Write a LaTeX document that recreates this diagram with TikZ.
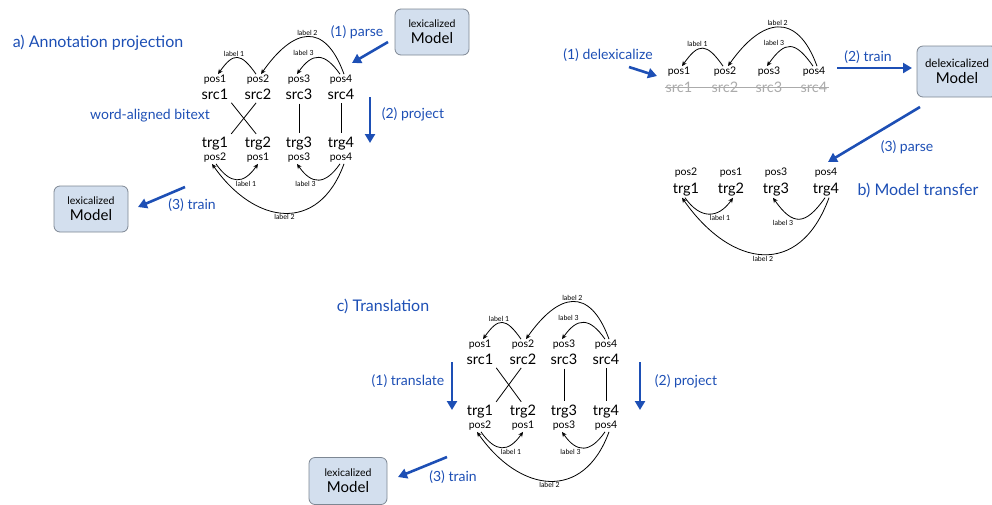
\documentclass[tikz,border=0pt]{standalone}
\usepackage{fontspec}
\setmainfont{Lato}
\usetikzlibrary{arrows.meta}
\definecolor{flowblue}{HTML}{1D4FB5}
\definecolor{boxfill}{HTML}{D3DFEE}
\definecolor{boxline}{HTML}{7D8793}
\definecolor{ghost}{HTML}{ABABAB}
\tikzset{
  word/.style={font=\fontsize{14.5}{16}\selectfont, inner sep=1pt},
  tagw/.style={font=\fontsize{10.5}{12}\selectfont, inner sep=1pt},
  ghostw/.style={word, text=ghost},
  lbl/.style={font=\fontsize{7}{8}\selectfont, inner sep=1.2pt},
  dep/.style={draw=black, line width=0.8pt, -{Stealth[length=5pt,width=4.5pt]}},
  algn/.style={draw=black, line width=0.8pt, shorten <=3pt, shorten >=3pt},
  strike/.style={draw=ghost, line width=0.8pt},
  flow/.style={draw=flowblue, line width=2.6pt, -{Triangle[length=9pt,width=10pt]}},
  stepl/.style={text=flowblue, font=\fontsize{14}{16}\selectfont},
  ttl/.style={text=flowblue, font=\fontsize{16}{18}\selectfont},
  box/.style={draw=boxline, fill=boxfill, rounded corners=6pt, line width=0.8pt,
    align=center, minimum width=74pt, minimum height=46pt, inner sep=1pt,
    font=\fontsize{15}{16}\selectfont},
}

\begin{document}
\begin{tikzpicture}[x=1pt,y=1pt]
  \useasboundingbox (0,0) rectangle (992,-504);

  % a) and c): source tree, alignment, projected tree
  \foreach \pn/\ox/\oy/\ty in {a/215/80/64, c/480/345/67} {
    \begin{scope}[shift={(\ox,-\oy)}]
      \foreach \i/\x/\t in {1/0/2, 2/43/1, 3/84/3, 4/126/4} {
        \node[tagw] (\pn-p\i) at (\x,0) {pos\i};
        \node[word] (\pn-s\i) at (\x,-14) {src\i};
        \node[word] (\pn-t\i) at (\x,-\ty) {trg\i};
        \node[tagw] (\pn-q\i) at (\x,-\ty-14) {pos\t};
      }
      \draw[algn] (\pn-s1.south east) -- (\pn-t2.north);
      \draw[algn] (\pn-s2.south) -- (\pn-t1.north east);
      \draw[algn] (\pn-s3.south) -- (\pn-t3.north);
      \draw[algn] (\pn-s4.south) -- (\pn-t4.north);
      \draw[dep] ([xshift=-2pt]\pn-p2.north) to[out=125,in=55,looseness=1.8]
        node[lbl,above,xshift=-3pt]{label 1} ([xshift=3pt]\pn-p1.north);
      \draw[dep] ([xshift=3pt]\pn-p4.north) to[out=110,in=55,looseness=1.75]
        node[lbl,above]{label 2} ([xshift=3pt]\pn-p2.north);
      \draw[dep] ([xshift=-1pt]\pn-p4.north) to[out=125,in=55,looseness=1.6]
        node[lbl,above,xshift=-15pt]{label 3} ([xshift=-2pt]\pn-p3.north);
      \draw[dep] ([xshift=1pt]\pn-q1.south) to[out=-55,in=-125,looseness=1.55]
        node[lbl,below,xshift=9pt]{label 1} (\pn-q2.south);
      \draw[dep] ([xshift=-1pt]\pn-q4.south) to[out=-125,in=-55,looseness=1.55]
        node[lbl,below,xshift=-13pt]{label 3} ([xshift=-2pt]\pn-q3.south);
      \draw[dep] ([xshift=3pt]\pn-q4.south) to[out=-110,in=-55,looseness=1.45]
        node[lbl,below]{label 2} ([xshift=-3pt]\pn-q1.south);
    \end{scope}
  }

  % a) Annotation projection
  \node[ttl] (a-title) at (98,-43) {a) Annotation projection};
  \node[stepl] (a-bitext) at (150,-116) {word-aligned bitext};
  \node[box] (a-lex) at (432,-32) {{\fontsize{10.5}{12}\selectfont lexicalized}\\Model};
  \node[box] (a-out) at (91,-209) {{\fontsize{10.5}{12}\selectfont lexicalized}\\Model};
  \coordinate (a-parse-s) at (388,-42);
  \coordinate (a-parse-e) at (352,-63);
  \coordinate (a-proj-s) at (370,-97);
  \coordinate (a-proj-e) at (370,-143);
  \coordinate (a-train-s) at (185,-187);
  \coordinate (a-train-e) at (138,-207);
  \draw[flow] (a-parse-s) -- (a-parse-e);
  \draw[flow] (a-proj-s) -- (a-proj-e);
  \draw[flow] (a-train-s) -- (a-train-e);
  \node[stepl] (a-parse) at (357,-32) {(1) parse};
  \node[stepl] (a-project) at (413,-114) {(2) project};
  \node[stepl] (a-train) at (192,-205) {(3) train};

  % b) Model transfer
  \foreach \i/\x in {1/679,2/725,3/769,4/814} {
    \node[tagw] (b-p\i) at (\x,-72) {pos\i};
    \node[ghostw] (b-s\i) at (\x,-87) {src\i};
  }
  \draw[strike] (b-s1.west) -- (b-s4.east);
  \draw[dep] ([xshift=-2pt]b-p2.north) to[out=125,in=55,looseness=1.8]
    node[lbl,above,xshift=-5pt]{label 1} ([xshift=3pt]b-p1.north);
  \draw[dep] ([xshift=3pt]b-p4.north) to[out=110,in=55,looseness=1.7]
    node[lbl,above]{label 2} ([xshift=3pt]b-p2.north);
  \draw[dep] ([xshift=-1pt]b-p4.north) to[out=125,in=55,looseness=1.75]
    node[lbl,above,xshift=-16pt]{label 3} ([xshift=-2pt]b-p3.north);
  \foreach \i/\x/\t in {1/686/2,2/731/1,3/776/3,4/826/4} {
    \node[tagw] (b-q\i) at (\x,-173) {pos\t};
    \node[word] (b-t\i) at (\x,-190) {trg\i};
  }
  \draw[dep] ([xshift=-1pt]b-t1.south) to[out=-55,in=-125,looseness=1.4]
    node[lbl,below,xshift=11pt]{label 1} ([xshift=2pt]b-t2.south);
  \draw[dep] ([xshift=-1pt]b-t4.south) to[out=-125,in=-55,looseness=1.7]
    node[lbl,below,xshift=-16pt]{label 3} ([xshift=-3pt]b-t3.south);
  \draw[dep] ([xshift=3pt]b-t4.south) to[out=-110,in=-55,looseness=1.5]
    node[lbl,below]{label 2} ([xshift=-4pt]b-t1.south);
  \node[box,minimum width=80pt,minimum height=51pt] (b-delex) at (957,-71.5)
    {{\fontsize{11.5}{13}\selectfont delexicalized}\\Model};
  \coordinate (b-delex-s) at (629,-67);
  \coordinate (b-delex-e) at (657,-76);
  \coordinate (b-train-s) at (837,-68);
  \coordinate (b-train-e) at (912,-68);
  \coordinate (b-parse-s) at (920,-107);
  \coordinate (b-parse-e) at (828,-162);
  \draw[flow] (b-delex-s) -- (b-delex-e);
  \draw[flow] (b-train-s) -- (b-train-e);
  \draw[flow] (b-parse-s) -- (b-parse-e);
  \node[stepl] (b-delexicalize) at (608,-55) {(1) delexicalize};
  \node[stepl] (b-trainl) at (868,-57) {(2) train};
  \node[stepl] (b-parsel) at (907,-147) {(3) parse};
  \node[ttl] (b-title) at (918,-190) {b) Model transfer};

  % c) Translation
  \node[ttl] (c-title) at (383,-306) {c) Translation};
  \node[box,minimum width=78pt,minimum height=47pt] (c-lex) at (348,-481)
    {{\fontsize{10.5}{12}\selectfont lexicalized}\\Model};
  \coordinate (c-trans-s) at (452,-362);
  \coordinate (c-trans-e) at (452,-410);
  \coordinate (c-proj-s) at (640,-362);
  \coordinate (c-proj-e) at (640,-410);
  \coordinate (c-train-s) at (447,-457);
  \coordinate (c-train-e) at (398,-477);
  \draw[flow] (c-trans-s) -- (c-trans-e);
  \draw[flow] (c-proj-s) -- (c-proj-e);
  \draw[flow] (c-train-s) -- (c-train-e);
  \node[stepl] (c-translate) at (408,-381) {(1) translate};
  \node[stepl] (c-project) at (686,-381) {(2) project};
  \node[stepl] (c-train) at (453,-477) {(3) train};
\end{tikzpicture}
\end{document}
